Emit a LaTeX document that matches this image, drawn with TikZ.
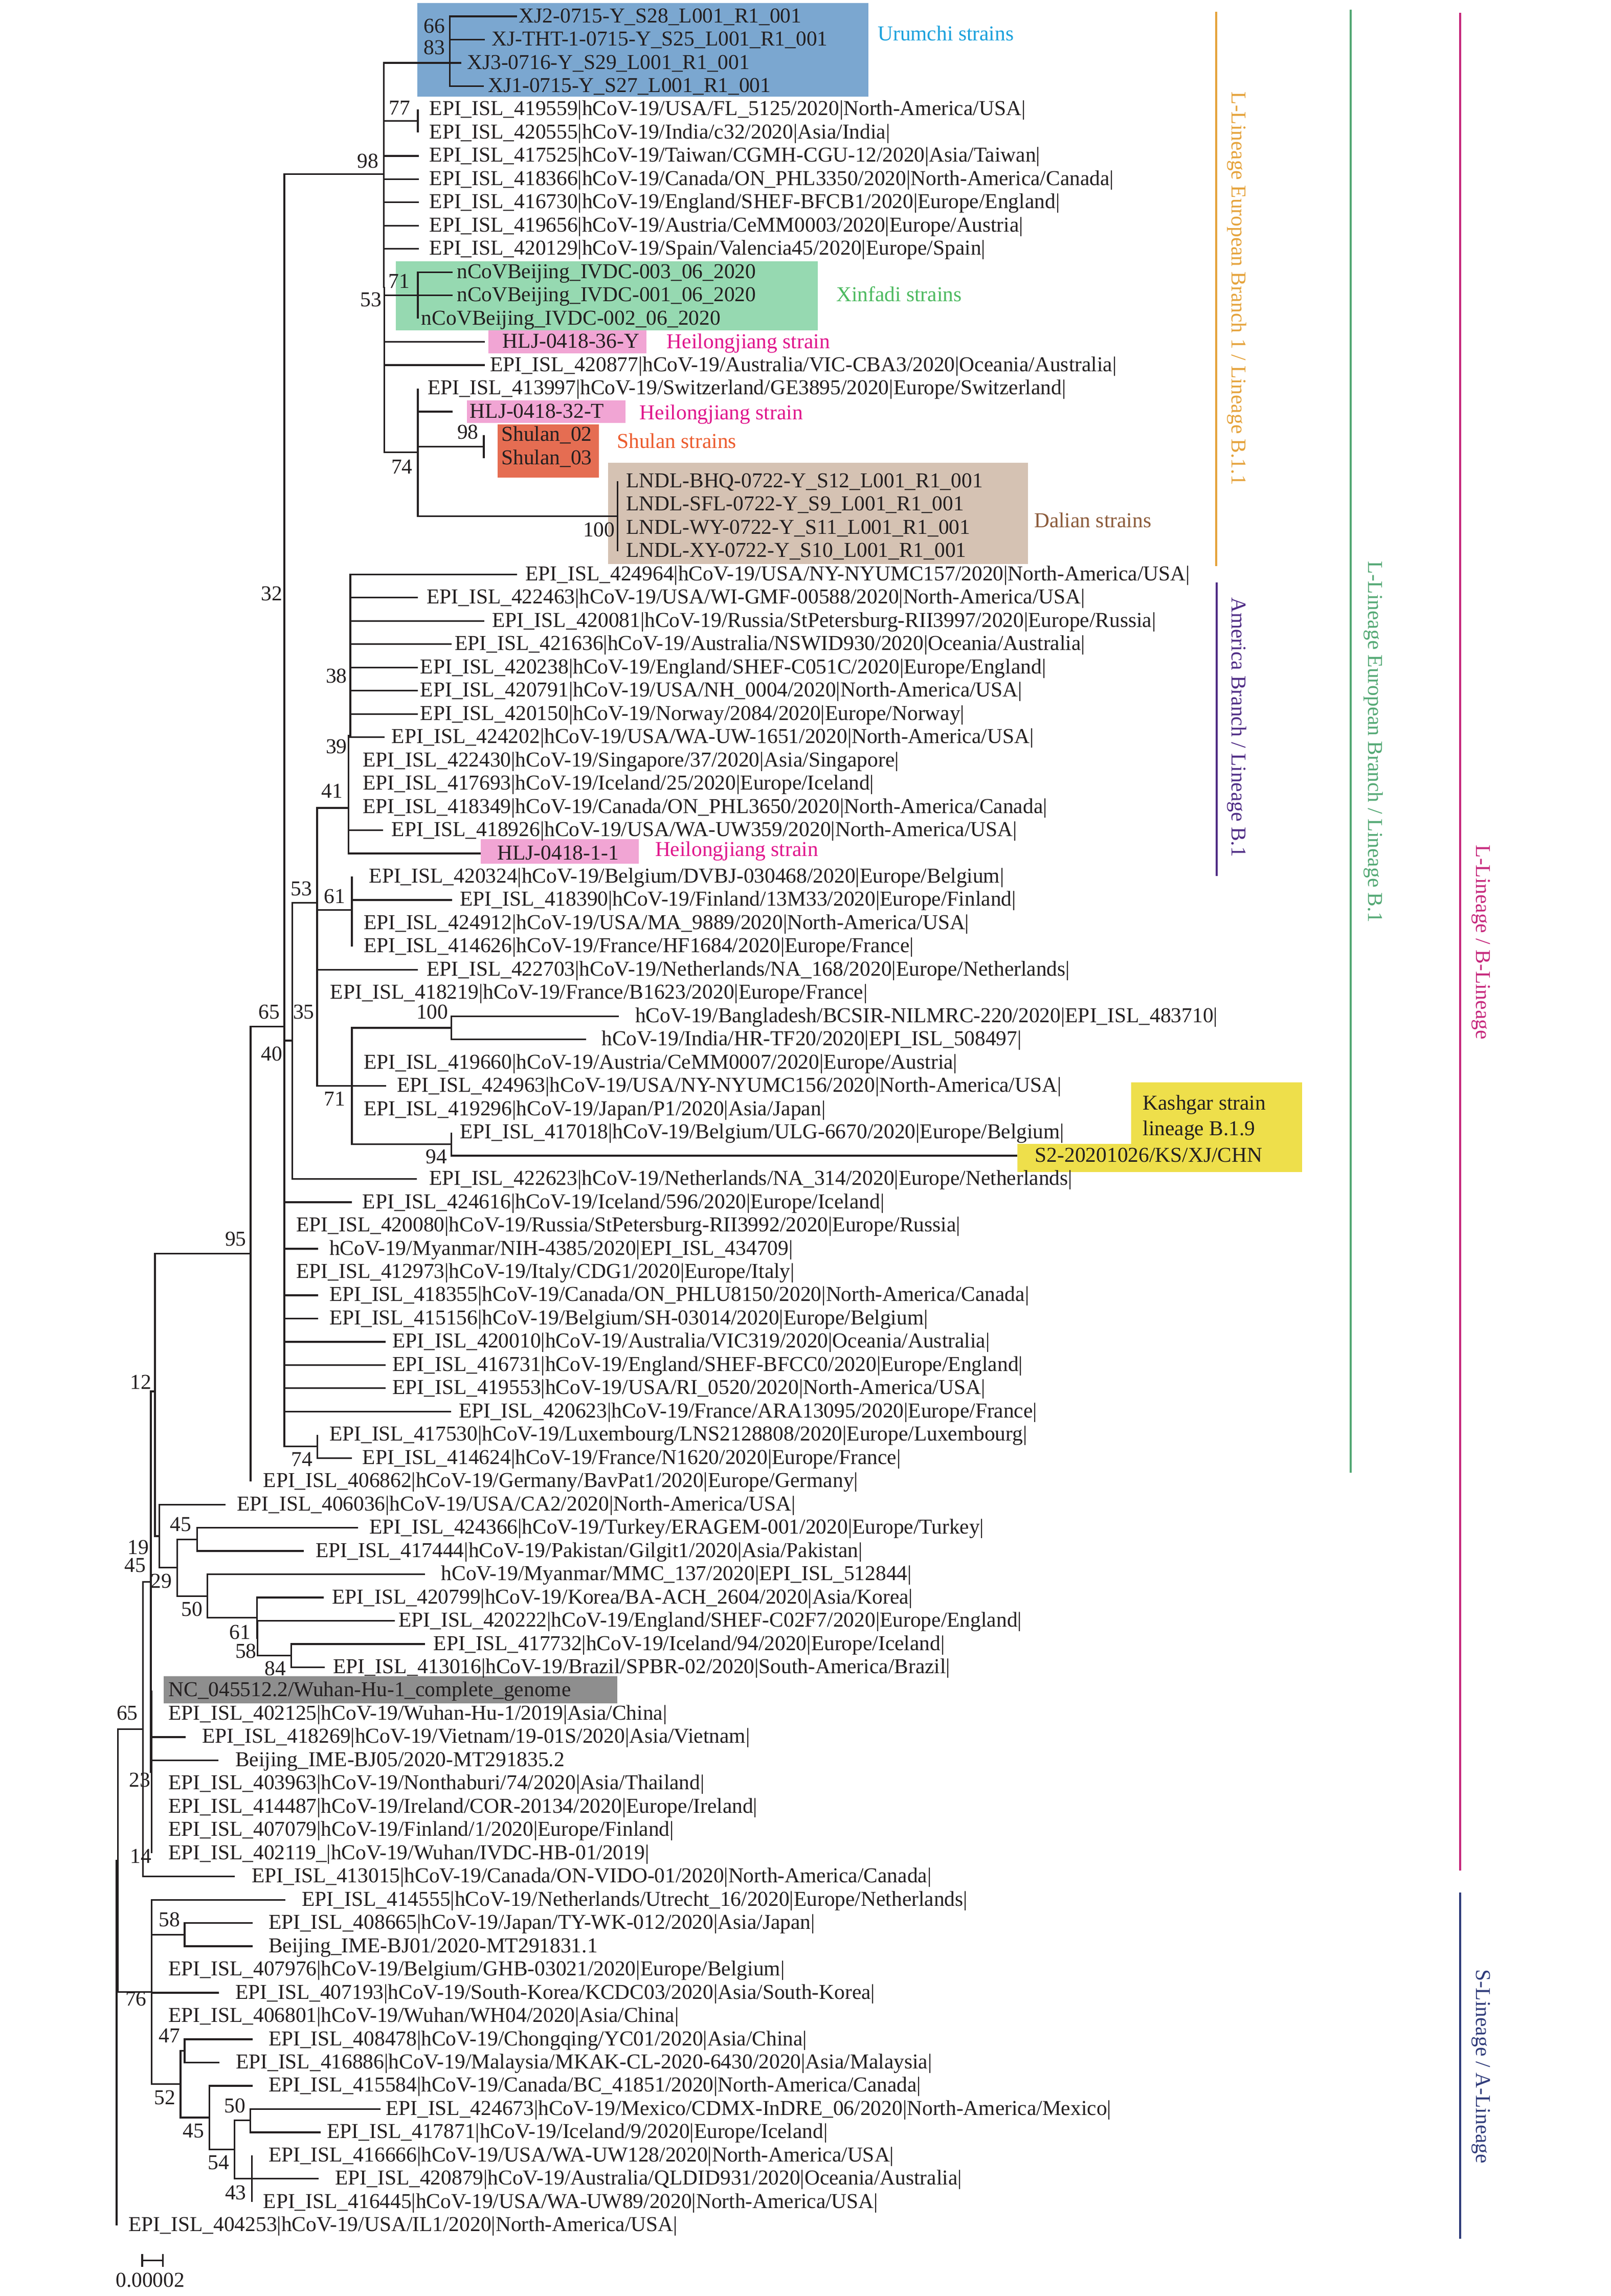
\documentclass[tikz,border=0pt]{standalone}
\usepackage{fontspec}
\setmainfont{Liberation Serif}
\definecolor{ink}{HTML}{231F20}
\definecolor{urubox}{HTML}{7BA7D0}
\definecolor{urutext}{HTML}{1BA1DC}
\definecolor{xinbox}{HTML}{96D9B1}
\definecolor{xintext}{HTML}{4DBA60}
\definecolor{hljbox}{HTML}{F1A5D4}
\definecolor{hljtext}{HTML}{E0168C}
\definecolor{shubox}{HTML}{E56D52}
\definecolor{shutext}{HTML}{EC5B2D}
\definecolor{dalbox}{HTML}{D5C2B3}
\definecolor{daltext}{HTML}{8B5A3A}
\definecolor{ncbox}{HTML}{8E8E8E}
\definecolor{kasbox}{HTML}{EEDF4B}
\definecolor{barorange}{HTML}{E5A23A}
\definecolor{barpurple}{HTML}{4F2C85}
\definecolor{bargreen}{HTML}{53A874}
\definecolor{barmagenta}{HTML}{C6287C}
\definecolor{barblue}{HTML}{2F3B7A}
\newcommand\lf{\fontsize{8.24}{9.5}\selectfont}
\newcommand\leaf[4]{%
  \coordinate (t#1) at (#2,{11.2+15.879*(#1-1)});
  \node[lab] (l#1) at (#3,{15.4+15.879*(#1-1)}) {#4};}
\tikzset{
  branch/.style={line width=0.65pt, draw=ink},
  lab/.style={inner sep=0pt, anchor=base west, font=\lf, text=ink},
  bs/.style={inner sep=0pt, anchor=base east, font=\lf, text=ink},
  note/.style={inner sep=0pt, anchor=base west, font=\lf},
  cladebar/.style={line width=0.8pt},
  cladelab/.style={inner sep=0pt, anchor=base west, rotate=-90, font=\lf},
}
\begin{document}
\begin{tikzpicture}[x=0.02cm,y=-0.02cm]
\fill[white] (0,0) rectangle (1100,1568);
\useasboundingbox (0,0) rectangle (1100,1568);

% ---------- highlight boxes ----------
\fill[urubox] (285.1,2) rectangle (592.9,66);
\fill[xinbox] (270.3,178.3) rectangle (558.5,225.7);
\fill[hljbox] (333.6,225.7) rectangle (441.4,241.2);
\fill[hljbox] (319,273.6) rectangle (427,288.8);
\fill[shubox] (339.7,289.8) rectangle (409,326.3);
\fill[dalbox] (415.2,316.2) rectangle (702,385.3);
\fill[hljbox] (328.3,573) rectangle (436,589.7);
\fill[kasbox] (772.3,739.2) -- (889.1,739.2) -- (889.1,800.4) -- (694.7,800.4)
  -- (694.7,781.2) -- (772.3,781.2) -- cycle;
\fill[ncbox] (111.9,1144.6) rectangle (421.6,1163.3);

% ---------- leaves ----------
\leaf{1}{352.9}{354.0}{XJ2-0715-Y\_S28\_L001\_R1\_001}
\leaf{2}{331.0}{335.4}{XJ-THT-1-0715-Y\_S25\_L001\_R1\_001}
\leaf{3}{315.0}{318.6}{XJ3-0716-Y\_S29\_L001\_R1\_001}
\leaf{4}{330.3}{333.0}{XJ1-0715-Y\_S27\_L001\_R1\_001}
\leaf{5}{285.3}{292.9}{EPI\_ISL\_419559|hCoV-19/USA/FL\_5125/2020|North-America/USA|}
\leaf{6}{285.3}{292.9}{EPI\_ISL\_420555|hCoV-19/India/c32/2020|Asia/India|}
\leaf{7}{286.0}{292.9}{EPI\_ISL\_417525|hCoV-19/Taiwan/CGMH-CGU-12/2020|Asia/Taiwan|}
\leaf{8}{286.0}{292.9}{EPI\_ISL\_418366|hCoV-19/Canada/ON\_PHL3350/2020|North-America/Canada|}
\leaf{9}{286.0}{292.9}{EPI\_ISL\_416730|hCoV-19/England/SHEF-BFCB1/2020|Europe/England|}
\leaf{10}{286.0}{292.9}{EPI\_ISL\_419656|hCoV-19/Austria/CeMM0003/2020|Europe/Austria|}
\leaf{11}{286.0}{292.9}{EPI\_ISL\_420129|hCoV-19/Spain/Valencia45/2020|Europe/Spain|}
\leaf{12}{308.9}{311.6}{nCoVBeijing\_IVDC-003\_06\_2020}
\leaf{13}{308.9}{311.6}{nCoVBeijing\_IVDC-001\_06\_2020}
\leaf{14}{285.3}{287.4}{nCoVBeijing\_IVDC-002\_06\_2020}
\leaf{15}{331.0}{342.9}{HLJ-0418-36-Y}
\leaf{16}{331.0}{334.2}{EPI\_ISL\_420877|hCoV-19/Australia/VIC-CBA3/2020|Oceania/Australia|}
\leaf{17}{285.3}{291.6}{EPI\_ISL\_413997|hCoV-19/Switzerland/GE3895/2020|Europe/Switzerland|}
\leaf{18}{308.9}{320.5}{HLJ-0418-32-T}
\leaf{19}{330.4}{342.0}{Shulan\_02}
\leaf{20}{330.4}{342.0}{Shulan\_03}
\leaf{21}{421.8}{427.1}{LNDL-BHQ-0722-Y\_S12\_L001\_R1\_001}
\leaf{22}{421.8}{427.1}{LNDL-SFL-0722-Y\_S9\_L001\_R1\_001}
\leaf{23}{421.8}{427.1}{LNDL-WY-0722-Y\_S11\_L001\_R1\_001}
\leaf{24}{421.8}{427.1}{LNDL-XY-0722-Y\_S10\_L001\_R1\_001}
\leaf{25}{353.0}{358.5}{EPI\_ISL\_424964|hCoV-19/USA/NY-NYUMC157/2020|North-America/USA|}
\leaf{26}{285.4}{291.0}{EPI\_ISL\_422463|hCoV-19/USA/WI-GMF-00588/2020|North-America/USA|}
\leaf{27}{330.7}{335.6}{EPI\_ISL\_420081|hCoV-19/Russia/StPetersburg-RII3997/2020|Europe/Russia|}
\leaf{28}{308.3}{310.3}{EPI\_ISL\_421636|hCoV-19/Australia/NSWID930/2020|Oceania/Australia|}
\leaf{29}{285.4}{286.7}{EPI\_ISL\_420238|hCoV-19/England/SHEF-C051C/2020|Europe/England|}
\leaf{30}{285.4}{286.7}{EPI\_ISL\_420791|hCoV-19/USA/NH\_0004/2020|North-America/USA|}
\leaf{31}{285.4}{286.7}{EPI\_ISL\_420150|hCoV-19/Norway/2084/2020|Europe/Norway|}
\leaf{32}{262.6}{267.1}{EPI\_ISL\_424202|hCoV-19/USA/WA-UW-1651/2020|North-America/USA|}
\leaf{33}{238.0}{247.4}{EPI\_ISL\_422430|hCoV-19/Singapore/37/2020|Asia/Singapore|}
\leaf{34}{238.0}{247.4}{EPI\_ISL\_417693|hCoV-19/Iceland/25/2020|Europe/Iceland|}
\leaf{35}{238.0}{247.4}{EPI\_ISL\_418349|hCoV-19/Canada/ON\_PHL3650/2020|North-America/Canada|}
\leaf{36}{261.7}{267.1}{EPI\_ISL\_418926|hCoV-19/USA/WA-UW359/2020|North-America/USA|}
\leaf{37}{328.3}{339.3}{HLJ-0418-1-1}
\leaf{38}{240.3}{251.7}{EPI\_ISL\_420324|hCoV-19/Belgium/DVBJ-030468/2020|Europe/Belgium|}
\leaf{39}{308.8}{313.7}{EPI\_ISL\_418390|hCoV-19/Finland/13M33/2020|Europe/Finland|}
\leaf{40}{240.3}{248.0}{EPI\_ISL\_424912|hCoV-19/USA/MA\_9889/2020|North-America/USA|}
\leaf{41}{240.3}{248.0}{EPI\_ISL\_414626|hCoV-19/France/HF1684/2020|Europe/France|}
\leaf{42}{285.4}{291.0}{EPI\_ISL\_422703|hCoV-19/Netherlands/NA\_168/2020|Europe/Netherlands|}
\leaf{43}{216.5}{225.2}{EPI\_ISL\_418219|hCoV-19/France/B1623/2020|Europe/France|}
\leaf{44}{422.4}{433.4}{hCoV-19/Bangladesh/BCSIR-NILMRC-220/2020|EPI\_ISL\_483710|}
\leaf{45}{400.2}{410.5}{hCoV-19/India/HR-TF20/2020|EPI\_ISL\_508497|}
\leaf{46}{240.3}{248.0}{EPI\_ISL\_419660|hCoV-19/Austria/CeMM0007/2020|Europe/Austria|}
\leaf{47}{263.5}{270.8}{EPI\_ISL\_424963|hCoV-19/USA/NY-NYUMC156/2020|North-America/USA|}
\leaf{48}{240.3}{248.0}{EPI\_ISL\_419296|hCoV-19/Japan/P1/2020|Asia/Japan|}
\leaf{49}{308.2}{313.7}{EPI\_ISL\_417018|hCoV-19/Belgium/ULG-6670/2020|Europe/Belgium|}
\leaf{50}{694.7}{706.4}{S2-20201026/KS/XJ/CHN}
\leaf{51}{284.5}{292.7}{EPI\_ISL\_422623|hCoV-19/Netherlands/NA\_314/2020|Europe/Netherlands|}
\leaf{52}{240.2}{247.2}{EPI\_ISL\_424616|hCoV-19/Iceland/596/2020|Europe/Iceland|}
\leaf{53}{194.2}{202.0}{EPI\_ISL\_420080|hCoV-19/Russia/StPetersburg-RII3992/2020|Europe/Russia|}
\leaf{54}{217.3}{224.6}{hCoV-19/Myanmar/NIH-4385/2020|EPI\_ISL\_434709|}
\leaf{55}{194.2}{202.0}{EPI\_ISL\_412973|hCoV-19/Italy/CDG1/2020|Europe/Italy|}
\leaf{56}{217.3}{224.6}{EPI\_ISL\_418355|hCoV-19/Canada/ON\_PHLU8150/2020|North-America/Canada|}
\leaf{57}{217.3}{224.6}{EPI\_ISL\_415156|hCoV-19/Belgium/SH-03014/2020|Europe/Belgium|}
\leaf{58}{263.2}{267.7}{EPI\_ISL\_420010|hCoV-19/Australia/VIC319/2020|Oceania/Australia|}
\leaf{59}{263.2}{267.7}{EPI\_ISL\_416731|hCoV-19/England/SHEF-BFCC0/2020|Europe/England|}
\leaf{60}{263.2}{267.7}{EPI\_ISL\_419553|hCoV-19/USA/RI\_0520/2020|North-America/USA|}
\leaf{61}{307.9}{312.9}{EPI\_ISL\_420623|hCoV-19/France/ARA13095/2020|Europe/France|}
\leaf{62}{216.8}{224.6}{EPI\_ISL\_417530|hCoV-19/Luxembourg/LNS2128808/2020|Europe/Luxembourg|}
\leaf{63}{240.2}{247.2}{EPI\_ISL\_414624|hCoV-19/France/N1620/2020|Europe/France|}
\leaf{64}{171.1}{179.4}{EPI\_ISL\_406862|hCoV-19/Germany/BavPat1/2020|Europe/Germany|}
\leaf{65}{154.0}{161.5}{EPI\_ISL\_406036|hCoV-19/USA/CA2/2020|North-America/USA|}
\leaf{66}{244.4}{251.9}{EPI\_ISL\_424366|hCoV-19/Turkey/ERAGEM-001/2020|Europe/Turkey|}
\leaf{67}{207.5}{215.3}{EPI\_ISL\_417444|hCoV-19/Pakistan/Gilgit1/2020|Asia/Pakistan|}
\leaf{68}{290.2}{300.9}{hCoV-19/Myanmar/MMC\_137/2020|EPI\_ISL\_512844|}
\leaf{69}{221.2}{226.5}{EPI\_ISL\_420799|hCoV-19/Korea/BA-ACH\_2604/2020|Asia/Korea|}
\leaf{70}{269.5}{271.8}{EPI\_ISL\_420222|hCoV-19/England/SHEF-C02F7/2020|Europe/England|}
\leaf{71}{290.2}{295.7}{EPI\_ISL\_417732|hCoV-19/Iceland/94/2020|Europe/Iceland|}
\leaf{72}{221.8}{227.0}{EPI\_ISL\_413016|hCoV-19/Brazil/SPBR-02/2020|South-America/Brazil|}
\leaf{73}{103.5}{114.7}{NC\_045512.2/Wuhan-Hu-1\_complete\_genome}
\leaf{74}{103.5}{114.7}{EPI\_ISL\_402125|hCoV-19/Wuhan-Hu-1/2019|Asia/China|}
\leaf{75}{126.7}{137.8}{EPI\_ISL\_418269|hCoV-19/Vietnam/19-01S/2020|Asia/Vietnam|}
\leaf{76}{149.0}{160.4}{Beijing\_IME-BJ05/2020-MT291835.2}
\leaf{77}{103.5}{114.7}{EPI\_ISL\_403963|hCoV-19/Nonthaburi/74/2020|Asia/Thailand|}
\leaf{78}{103.5}{114.7}{EPI\_ISL\_414487|hCoV-19/Ireland/COR-20134/2020|Europe/Ireland|}
\leaf{79}{103.5}{114.7}{EPI\_ISL\_407079|hCoV-19/Finland/1/2020|Europe/Finland|}
\leaf{80}{103.5}{114.7}{EPI\_ISL\_402119\_|hCoV-19/Wuhan/IVDC-HB-01/2019|}
\leaf{81}{160.4}{171.6}{EPI\_ISL\_413015|hCoV-19/Canada/ON-VIDO-01/2020|North-America/Canada|}
\leaf{82}{194.7}{205.9}{EPI\_ISL\_414555|hCoV-19/Netherlands/Utrecht\_16/2020|Europe/Netherlands|}
\leaf{83}{172.4}{183.0}{EPI\_ISL\_408665|hCoV-19/Japan/TY-WK-012/2020|Asia/Japan|}
\leaf{84}{172.4}{183.0}{Beijing\_IME-BJ01/2020-MT291831.1}
\leaf{85}{103.5}{114.7}{EPI\_ISL\_407976|hCoV-19/Belgium/GHB-03021/2020|Europe/Belgium|}
\leaf{86}{149.5}{160.4}{EPI\_ISL\_407193|hCoV-19/South-Korea/KCDC03/2020|Asia/South-Korea|}
\leaf{87}{103.5}{114.7}{EPI\_ISL\_406801|hCoV-19/Wuhan/WH04/2020|Asia/China|}
\leaf{88}{172.4}{183.0}{EPI\_ISL\_408478|hCoV-19/Chongqing/YC01/2020|Asia/China|}
\leaf{89}{149.8}{160.7}{EPI\_ISL\_416886|hCoV-19/Malaysia/MKAK-CL-2020-6430/2020|Asia/Malaysia|}
\leaf{90}{172.4}{183.0}{EPI\_ISL\_415584|hCoV-19/Canada/BC\_41851/2020|North-America/Canada|}
\leaf{91}{259.7}{263.0}{EPI\_ISL\_424673|hCoV-19/Mexico/CDMX-InDRE\_06/2020|North-America/Mexico|}
\leaf{92}{219.1}{223.0}{EPI\_ISL\_417871|hCoV-19/Iceland/9/2020|Europe/Iceland|}
\leaf{93}{172.1}{183.0}{EPI\_ISL\_416666|hCoV-19/USA/WA-UW128/2020|North-America/USA|}
\leaf{94}{217.6}{228.5}{EPI\_ISL\_420879|hCoV-19/Australia/QLDID931/2020|Oceania/Australia|}
\leaf{95}{172.1}{179.4}{EPI\_ISL\_416445|hCoV-19/USA/WA-UW89/2020|North-America/USA|}
\leaf{96}{79.6}{87.5}{EPI\_ISL\_404253|hCoV-19/USA/IL1/2020|North-America/USA|}

% ---------- internal nodes ----------
\coordinate (nUru) at (307.2,42.96);
\coordinate (n77) at (285.3,82.66);
\coordinate (nXin) at (285.3,201.75);
\coordinate (n74) at (285.3,308.9);
\coordinate (nShu) at (330.4,304.96);
\coordinate (nDal) at (421.8,352.6);
\coordinate (n98) at (262.2,119);
\coordinate (n53) at (262.5,196);
\coordinate (n32) at (194.2,410);
\coordinate (n38) at (239.2,502.3);
\coordinate (n41) at (238.0,551.8);
\coordinate (n61) at (240.3,621.5);
\coordinate (n100) at (308.2,701.9);
\coordinate (n94) at (308.2,781.3);
\coordinate (n71) at (240.3,741.5);
\coordinate (n53b) at (216.5,616.5);
\coordinate (n40) at (199.6,710.7);
\coordinate (n65) at (194.2,701);
\coordinate (n74b) at (216.8,987.7);
\coordinate (n95) at (171.1,856);
\coordinate (n12) at (105.8,950.2);
\coordinate (n19) at (108.9,1049);
\coordinate (n29) at (121.0,1070.6);
\coordinate (n45) at (134.5,1051.25);
\coordinate (n50) at (141.5,1090);
\coordinate (n61b) at (175.5,1104.8);
\coordinate (n58) at (175.9,1118.8);
\coordinate (n84) at (198.9,1130.7);
\coordinate (n23) at (103.5,1210.1);
\coordinate (n45L) at (103.0,1080.2);
\coordinate (n65L) at (97.6,1180.8);
\coordinate (n76) at (103.5,1360.3);
\coordinate (nX) at (80.4,1270.6);
\coordinate (root) at (79.6,1395.2);
\coordinate (n58L) at (126.1,1321.15);
\coordinate (n52) at (123.3,1423.3);
\coordinate (n47) at (126.1,1400.5);
\coordinate (n45b) at (143.1,1446.1);
\coordinate (n54) at (160.0,1468);
\coordinate (n50b) at (170.9,1448.15);
\coordinate (n43) at (172.1,1487.8);

% ---------- branches ----------
\foreach \c in {t1,t2,t3,t4} \draw[branch] (nUru) |- (\c);
\foreach \c in {nUru,n77,t7,t8,t9,t10,t11,n53} \draw[branch] (n98) |- (\c);
\foreach \c in {t5,t6} \draw[branch] (n77) |- (\c);
\foreach \c in {nXin,t15,t16,n74} \draw[branch] (n53) |- (\c);
\foreach \c in {t12,t13,t14} \draw[branch] (nXin) |- (\c);
\foreach \c in {t17,t18,nShu,nDal} \draw[branch] (n74) |- (\c);
\foreach \c in {t19,t20} \draw[branch] (nShu) |- (\c);
\foreach \c in {t21,t22,t23,t24} \draw[branch] (nDal) |- (\c);
\draw[branch] (n32) |- (n98);
\foreach \c in {n32,n40,t52,t53,t54,t55,t56,t57,t58,t59,t60,t61,n74b} \draw[branch] (n65) |- (\c);
\foreach \c in {n53b,t51} \draw[branch] (n40) |- (\c);
\foreach \c in {n41,n61,t42,t43,n71} \draw[branch] (n53b) |- (\c);
\foreach \c in {n38,t33,t34,t35,t36,t37} \draw[branch] (n41) |- (\c);
\foreach \c in {t25,t26,t27,t28,t29,t30,t31,t32} \draw[branch] (n38) |- (\c);
\foreach \c in {t38,t39,t40,t41} \draw[branch] (n61) |- (\c);
\foreach \c in {n100,t46,t47,t48,n94} \draw[branch] (n71) |- (\c);
\foreach \c in {t44,t45} \draw[branch] (n100) |- (\c);
\foreach \c in {t49,t50} \draw[branch] (n94) |- (\c);
\foreach \c in {t62,t63} \draw[branch] (n74b) |- (\c);
\foreach \c in {n65,t64} \draw[branch] (n95) |- (\c);
\foreach \c in {n95,n19} \draw[branch] (n12) |- (\c);
\foreach \c in {t65,n29} \draw[branch] (n19) |- (\c);
\foreach \c in {n45,n50} \draw[branch] (n29) |- (\c);
\foreach \c in {t66,t67} \draw[branch] (n45) |- (\c);
\foreach \c in {t68,n61b} \draw[branch] (n50) |- (\c);
\foreach \c in {t69,n58} \draw[branch] (n61b) |- (\c);
\foreach \c in {t70,n84} \draw[branch] (n58) |- (\c);
\foreach \c in {t71,t72} \draw[branch] (n84) |- (\c);
\foreach \c in {n12,n23} \draw[branch] (n45L) |- (\c);
\foreach \c in {t73,t74,t75,t76,t77,t78,t79,t80} \draw[branch] (n23) |- (\c);
\foreach \c in {n45L,t81} \draw[branch] (n65L) |- (\c);
\foreach \c in {n65L,n76} \draw[branch] (nX) |- (\c);
\foreach \c in {nX,t96} \draw[branch] (root) |- (\c);
\foreach \c in {t82,n58L,t85,t86,t87,n52} \draw[branch] (n76) |- (\c);
\foreach \c in {t83,t84} \draw[branch] (n58L) |- (\c);
\foreach \c in {n47,n45b} \draw[branch] (n52) |- (\c);
\foreach \c in {t88,t89} \draw[branch] (n47) |- (\c);
\foreach \c in {t90,n54} \draw[branch] (n45b) |- (\c);
\foreach \c in {n50b,n43} \draw[branch] (n54) |- (\c);
\foreach \c in {t91,t92} \draw[branch] (n50b) |- (\c);
\foreach \c in {t93,t94,t95} \draw[branch] (n43) |- (\c);

% ---------- bootstrap values ----------
\node[bs] (bs01) at (304.2,22.4) {66};
\node[bs] (bs02) at (304.2,37.3) {83};
\node[bs] (bs03) at (280.4,78.5) {77};
\node[bs] (bs04) at (258.9,114.6) {98};
\node[bs] (bs05) at (261.0,209.4) {53};
\node[bs] (bs06) at (280.0,196.9) {71};
\node[bs] (bs07) at (282.0,323.6) {74};
\node[bs] (bs08) at (327.1,299.9) {98};
\node[bs] (bs09) at (420.2,366.5) {100};
\node[bs] (bs10) at (193.2,410.1) {32};
\node[bs] (bs11) at (237.3,466.3) {38};
\node[bs] (bs12) at (237.3,514.4) {39};
\node[bs] (bs13) at (234.3,544.8) {41};
\node[bs] (bs14) at (213.3,611.6) {53};
\node[bs] (bs15) at (236.0,616.9) {61};
\node[bs] (bs16) at (215.0,695.9) {35};
\node[bs] (bs17) at (306.4,695.8) {100};
\node[bs] (bs18) at (236.0,755.2) {71};
\node[bs] (bs19) at (305.5,794.7) {94};
\node[bs] (bs20) at (191.4,695.9) {65};
\node[bs] (bs21) at (193.2,724.4) {40};
\node[bs] (bs22) at (168.5,850.8) {95};
\node[bs] (bs23) at (213.7,1001.3) {74};
\node[bs] (bs24) at (103.8,948.8) {12};
\node[bs] (bs25) at (131.1,1045.7) {45};
\node[bs] (bs26) at (101.9,1061.6) {19};
\node[bs] (bs27) at (99.9,1073.8) {45};
\node[bs] (bs28) at (117.8,1084.5) {29};
\node[bs] (bs29) at (138.6,1103.6) {50};
\node[bs] (bs30) at (171.6,1119.4) {61};
\node[bs] (bs31) at (175.5,1132.4) {58};
\node[bs] (bs32) at (195.5,1144.1) {84};
\node[bs] (bs33) at (94.5,1174.5) {65};
\node[bs] (bs34) at (103.1,1220.3) {23};
\node[bs] (bs35) at (103.8,1272.2) {14};
\node[bs] (bs36) at (100.4,1369.9) {76};
\node[bs] (bs37) at (123.3,1315.6) {58};
\node[bs] (bs38) at (123.3,1395.1) {47};
\node[bs] (bs39) at (120.2,1437.2) {52};
\node[bs] (bs40) at (139.7,1460.0) {45};
\node[bs] (bs41) at (168.0,1442.8) {50};
\node[bs] (bs42) at (156.8,1481.6) {54};
\node[bs] (bs43) at (168.5,1502.1) {43};

% ---------- group notes ----------
\node[note, text=urutext] (nUrumchi) at (599.0,27.9) {Urumchi strains};
\node[note, text=xintext] (nXinfadi) at (570.7,205.7) {Xinfadi strains};
\node[note, text=hljtext] (nHLJa) at (455.0,238.1) {Heilongjiang strain};
\node[note, text=hljtext] (nHLJb) at (436.5,286.7) {Heilongjiang strain};
\node[note, text=shutext] (nShulan) at (420.9,306.0) {Shulan strains};
\node[note, text=daltext] (nDalian) at (705.8,360.3) {Dalian strains};
\node[note, text=hljtext] (nHLJc) at (447.0,584.8) {Heilongjiang strain};
\node[note, text=ink] (nKas1) at (780.0,758.1) {Kashgar strain};
\node[note, text=ink] (nKas2) at (780.0,775.4) {lineage B.1.9};

% ---------- clade bars ----------
\coordinate (oTop) at (830.5,8);     \coordinate (oBot) at (830.5,386.6);
\coordinate (pTop) at (830.8,397.8); \coordinate (pBot) at (830.8,598.2);
\coordinate (gTop) at (922.2,6.7);   \coordinate (gBot) at (922.2,1005.9);
\coordinate (mTop) at (996.9,8.9);   \coordinate (mBot) at (996.9,1277.4);
\coordinate (bTop) at (996.9,1292.4);\coordinate (bBot) at (996.9,1529);
\draw[cladebar, barorange] (oTop) -- (oBot);
\draw[cladebar, barpurple] (pTop) -- (pBot);
\draw[cladebar, bargreen] (gTop) -- (gBot);
\draw[cladebar, barmagenta] (mTop) -- (mBot);
\draw[cladebar, barblue] (bTop) -- (bBot);
\node[cladelab, text=barorange] (cOrange) at (841.0,62.4) {L-Lineage European Branch 1 / Lineage B.1.1};
\node[cladelab, text=barpurple] (cPurple) at (841.0,407.6) {America Branch / Lineage B.1};
\node[cladelab, text=bargreen] (cGreen) at (934.4,383.0) {L-Lineage European Branch / Lineage B.1};
\node[cladelab, text=barmagenta] (cMagenta) at (1007.9,576.8) {L-Lineage / B-Lineage};
\node[cladelab, text=barblue] (cBlue) at (1007.9,1344.5) {S-Lineage / A-Lineage};

% ---------- scale bar ----------
\coordinate (sbL) at (97.1,1543.7);
\coordinate (sbR) at (111.3,1543.7);
\draw[branch] (sbL) -- (sbR);
\draw[branch] ([yshift=0.084cm]sbL) -- ([yshift=-0.086cm]sbL);
\draw[branch] ([yshift=0.084cm]sbR) -- ([yshift=-0.086cm]sbR);
\node[inner sep=0pt, anchor=base, font=\lf, text=ink] (sbText) at (102.6,1562) {0.00002};
\end{tikzpicture}
\end{document}
